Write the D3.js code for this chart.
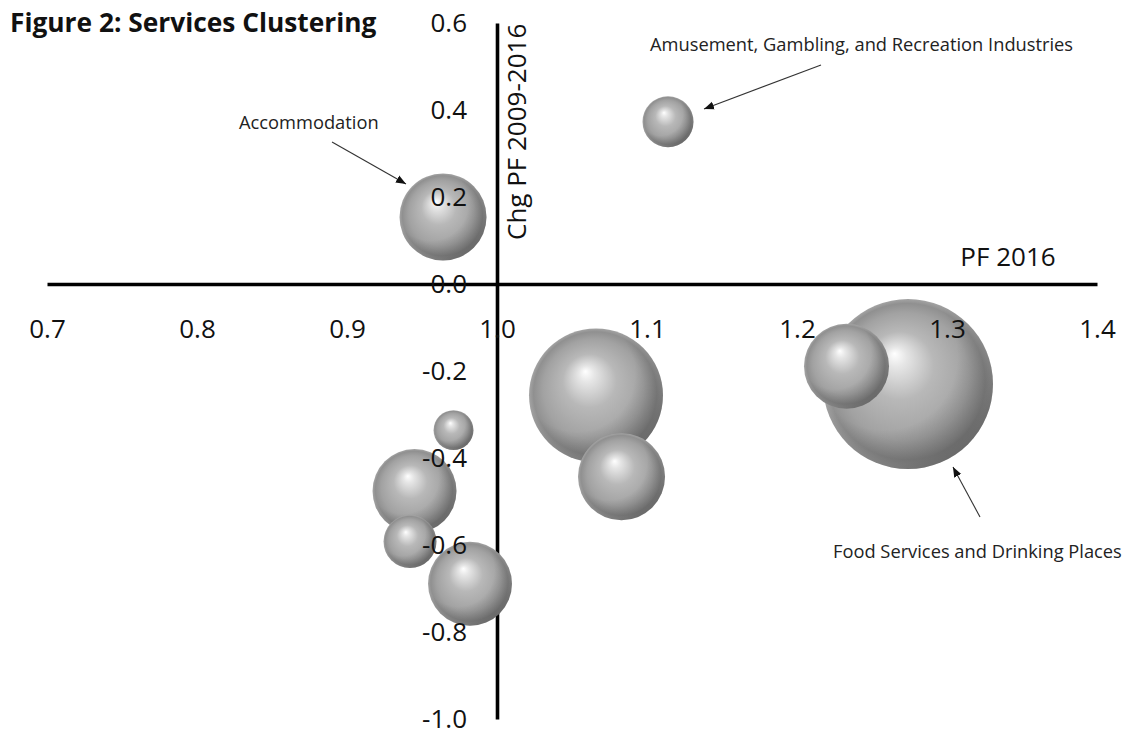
<!DOCTYPE html>
<html>
<head>
<meta charset="utf-8">
<script src="https://cdn.jsdelivr.net/npm/d3@7"></script>
<style>
  html, body { margin: 0; padding: 0; background: #fff; }
  svg { display: block; }
  text { font-family: "Open Sans", "Noto Sans", sans-serif; }
</style>
</head>
<body>
<svg id="chart" width="1128" height="736"></svg>
<script>
// ---- data ----
const industries = [
  "Amusement, Gambling, and Recreation Industries",
  "Accommodation",
  "Services A",
  "Food Services and Drinking Places",
  "Services B",
  "Services C",
  "Services D",
  "Services E",
  "Services F",
  "Services G"
];
const pf2016 =      [1.114, 0.964, 1.066, 1.274, 1.233, 1.083, 0.971, 0.945, 0.942, 0.982];
const chgPF =       [0.373, 0.154, -0.256, -0.230, -0.189, -0.443, -0.336, -0.476, -0.592, -0.689];
const bubbleSize =  [9.0, 26.2, 62.1, 100, 25.0, 26.2, 5.5, 24.4, 9.7, 24.4];
const xTicks = [0.7, 0.8, 0.9, 1.0, 1.1, 1.2, 1.3, 1.4];
const yTicks = [-1.0, -0.8, -0.6, -0.4, -0.2, 0.0, 0.2, 0.4, 0.6];
const titleText = "Figure 2: Services Clustering";
const xTitle = "PF 2016";
const yTitle = "Chg PF 2009-2016";
const labelled = [
  { idx: 0, text: "Amusement, Gambling, and Recreation Industries" },
  { idx: 1, text: "Accommodation" },
  { idx: 3, text: "Food Services and Drinking Places" }
];

// ---- chart ----
const svg = d3.select("#chart");
const x = d3.scaleLinear().domain([0.7, 1.4]).range([47, 1097]);
const y = d3.scaleLinear().domain([-1.0, 0.6]).range([719, 23]);
const r = d3.scaleSqrt().domain([0, 100]).range([0, 85]);

const defs = svg.append("defs");
const g1 = defs.append("radialGradient").attr("id", "sphere")
  .attr("cx", 0.5).attr("cy", 0.5).attr("r", 0.5).attr("fx", 0.42).attr("fy", 0.32);
[[0, "#ffffff"], [0.12, "#e6e6e6"], [0.4, "#b8b8b8"], [0.75, "#a2a2a2"], [0.92, "#909090"], [1, "#a4a4a4"]]
  .forEach(([o, c]) => g1.append("stop").attr("offset", o).attr("stop-color", c));
const g2 = defs.append("radialGradient").attr("id", "shade")
  .attr("cx", 0.36).attr("cy", 0.34).attr("r", 0.78);
[[0, 0], [0.55, 0], [0.82, 0.22], [1, 0.48]]
  .forEach(([o, a]) => g2.append("stop").attr("offset", o).attr("stop-color", "#000").attr("stop-opacity", a));
defs.append("marker").attr("id", "arrow")
  .attr("viewBox", "0 0 10 10").attr("refX", 10).attr("refY", 5)
  .attr("markerWidth", 10).attr("markerHeight", 10).attr("markerUnits", "userSpaceOnUse")
  .attr("orient", "auto")
  .append("path").attr("d", "M0,1 L10,5 L0,9 Z").attr("fill", "#111");

const fmt = v => v.toFixed(1);

// axis lines (under bubbles)
const xAxisLine = svg.append("g").attr("transform", `translate(0,${y(0)})`)
  .call(d3.axisBottom(x).tickValues(xTicks).tickSize(0).tickFormat(""));
const yAxisLine = svg.append("g").attr("transform", `translate(${x(1.0)},0)`)
  .call(d3.axisLeft(y).tickValues(yTicks).tickSize(0).tickFormat(""));
[xAxisLine, yAxisLine].forEach(g => {
  g.selectAll(".tick").remove();
  g.select(".domain").attr("stroke", "#000").attr("stroke-width", 3.6);
});

// bubbles (largest first)
const data = industries.map((name, i) => ({ name, px: pf2016[i], py: chgPF[i], s: bubbleSize[i] }))
  .sort((a, b) => b.s - a.s);
const bub = svg.append("g");
bub.selectAll("circle.base").data(data).join("circle").attr("class", "base")
  .attr("cx", d => x(d.px)).attr("cy", d => y(d.py)).attr("r", d => r(d.s))
  .attr("fill", "url(#sphere)");
bub.selectAll("circle.base").each(function(d) {
  d3.select(this.parentNode).insert("circle", () => this.nextSibling)
    .attr("cx", x(d.px)).attr("cy", y(d.py)).attr("r", r(d.s))
    .attr("fill", "url(#shade)");
});

// tick labels (over bubbles)
const xLab = svg.append("g").attr("transform", `translate(0,${y(0)})`)
  .call(d3.axisBottom(x).tickValues(xTicks).tickSize(0).tickPadding(36).tickFormat(fmt));
const yLab = svg.append("g").attr("transform", `translate(${x(1.0)},0)`)
  .call(d3.axisLeft(y).tickValues(yTicks).tickSize(0).tickPadding(30).tickFormat(fmt));
[xLab, yLab].forEach(g => {
  g.select(".domain").remove();
  g.selectAll("text").attr("font-size", 26).attr("fill", "#111")
    .attr("font-family", "'Open Sans', sans-serif");
});
yLab.selectAll("text").attr("dy", "0.34em");

// axis titles
svg.append("text").attr("x", 1008).attr("y", 266).attr("text-anchor", "middle")
  .attr("font-size", 26).attr("fill", "#111").text(xTitle);
svg.append("text").attr("transform", "translate(526,240) rotate(-90)")
  .attr("font-size", 26).attr("fill", "#111").text(yTitle);

// title
svg.append("text").attr("x", 10).attr("y", 32).attr("font-size", 26.3).attr("font-weight", 700)
  .attr("fill", "#111").text(titleText);

// annotations
const annPos = [
  { tx: 650, ty: 45, from: [821, 65], to: [704, 109] },
  { tx: 239, ty: 123, from: [332, 142], to: [406, 184] },
  { tx: 833, ty: 552, from: [980, 517], to: [953, 467] }
];
labelled.forEach((l, i) => {
  const p = annPos[i];
  svg.append("text").attr("x", p.tx).attr("y", p.ty).attr("dy", "0.35em")
    .attr("font-size", 18.3).attr("fill", "#222").text(l.text);
  svg.append("line").attr("x1", p.from[0]).attr("y1", p.from[1]).attr("x2", p.to[0]).attr("y2", p.to[1])
    .attr("stroke", "#333").attr("stroke-width", 1.1).attr("marker-end", "url(#arrow)");
});
</script>
</body>
</html>
